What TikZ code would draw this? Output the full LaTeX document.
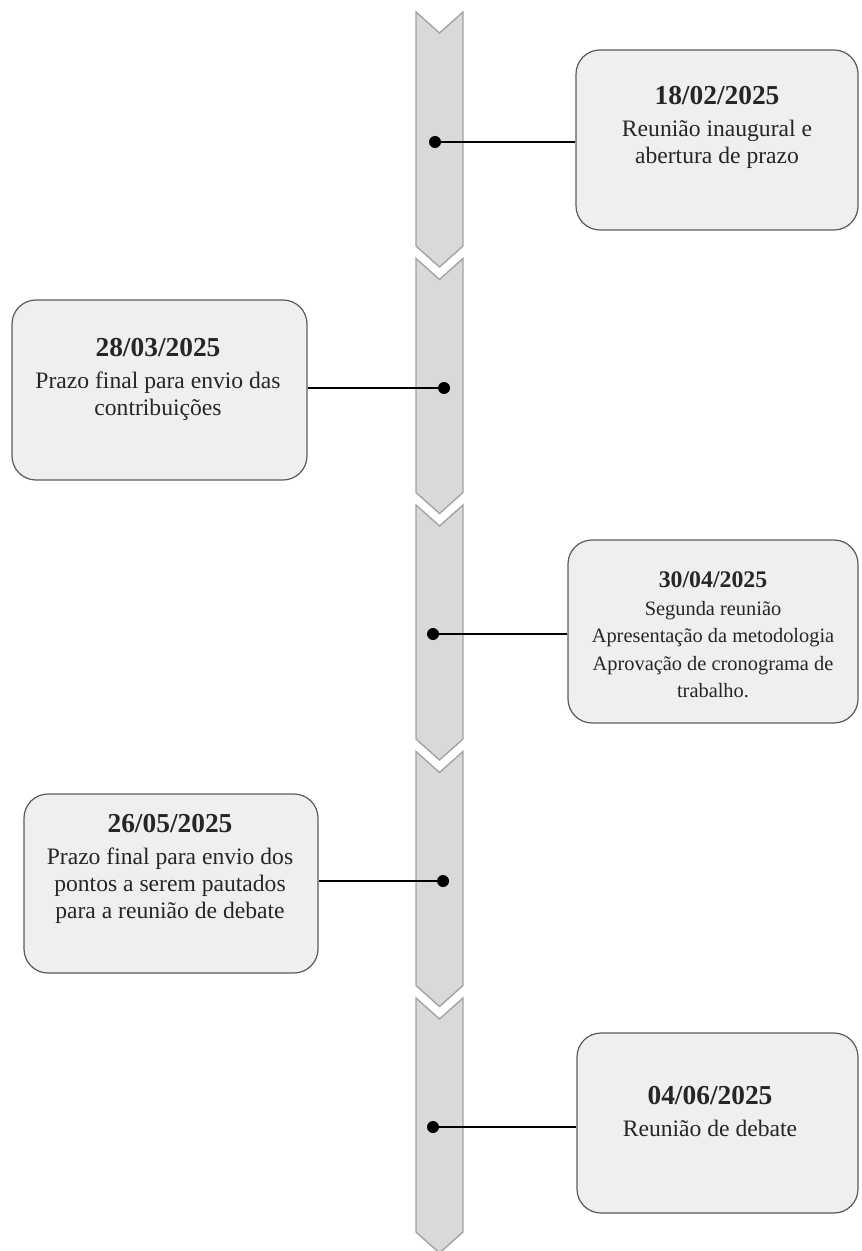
\documentclass[tikz,border=0pt]{standalone}
\usepackage{fontspec}
\setmainfont{Liberation Serif}

\definecolor{chevfill}{HTML}{D9D9D9}
\definecolor{chevline}{HTML}{A3A3A3}
\definecolor{boxfill}{HTML}{EFEFEF}
\definecolor{boxline}{HTML}{5A5A5A}

\newcommand{\evdate}[1]{{\fontsize{13.7}{13.5}\selectfont\bfseries #1}}
\newcommand{\evdatesm}[1]{{\fontsize{11.9}{13.75}\selectfont\bfseries #1}}

\tikzset{
    chevron/.style={fill=chevfill, draw=chevline, line width=0.7pt,
        preaction={draw=white, line width=4pt}},
    event/.style={draw=boxline, fill=boxfill, rounded corners=12pt,
        line width=0.6pt, inner sep=0pt},
    caption/.style={align=center, text=black!85, inner sep=0pt,
        font=\fontsize{11.8}{13.5}\selectfont},
    dot/.style={circle, fill=black, inner sep=0pt, minimum size=6pt},
    link/.style={line width=1.2pt},
}

\begin{document}
\begin{tikzpicture}[x=0.5pt, y=-0.5pt]
            \useasboundingbox (0,0) rectangle (861,1251);
            % the time line
            \foreach \t in {12,258.5,505,751.5,998}
                \filldraw[chevron] (416,\t) -- (439.5,\t+21) -- (463,\t) -- (463,\t+234)
                    -- (439.5,\t+255) -- (416,\t+234) -- cycle;
            % boxes
            \node[event, minimum width=141pt, minimum height=90pt]   (b1) at (717,140)   {};
            \node[event, minimum width=147.5pt, minimum height=90pt] (b2) at (159.5,390) {};
            \node[event, minimum width=145pt, minimum height=91.5pt] (b3) at (713,631.5) {};
            \node[event, minimum width=147pt, minimum height=89.5pt] (b4) at (171,883.5) {};
            \node[event, minimum width=140.5pt, minimum height=90pt] (b5) at (717.5,1123) {};
            % texts
            \node[caption] (t1) at (717,127)  {\evdate{18/02/2025}\\[2.5pt] Reunião inaugural e\\ abertura de prazo};
            \node[caption] (t2) at (158,379)  {\evdate{28/03/2025}\\[2.5pt] Prazo final para envio das\\ contribuições};
            \node[caption, font=\fontsize{10.2}{13.75}\selectfont] (t3) at (713,635)
                {\evdatesm{30/04/2025}\\ Segunda reunião\\ Apresentação da metodologia\\ Aprovação de cronograma de\\ trabalho.};
            \node[caption] (t4) at (170,869)  {\evdate{26/05/2025}\\[2.5pt] Prazo final para envio dos\\ pontos a serem pautados\\ para a reunião de debate};
            \node[caption] (t5) at (710,1111) {\evdate{04/06/2025}\\[2.5pt] Reunião de debate};
            % dots and links
            \node[dot] (d1) at (435,142)  {};
            \node[dot] (d2) at (444,388)  {};
            \node[dot] (d3) at (433,634)  {};
            \node[dot] (d4) at (443,881)  {};
            \node[dot] (d5) at (433,1127) {};
            \draw[link] (d1.center) -- (d1 -| b1.west);
            \draw[link] (d2.center) -- (d2 -| b2.east);
            \draw[link] (d3.center) -- (d3 -| b3.west);
            \draw[link] (d4.center) -- (d4 -| b4.east);
            \draw[link] (d5.center) -- (d5 -| b5.west);
\end{tikzpicture}
\end{document}
